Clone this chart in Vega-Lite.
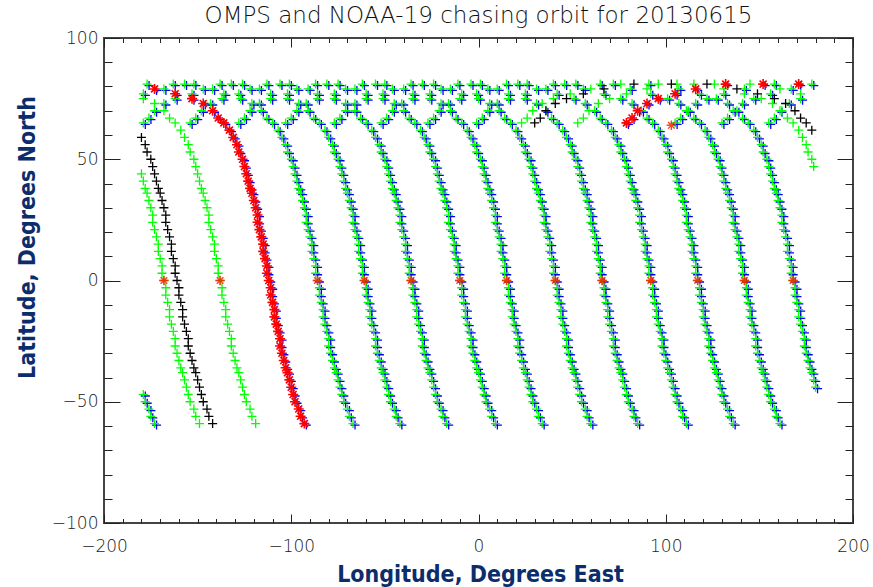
{
"$schema":"https://vega.github.io/schema/vega-lite/v6.json",
"width":749,"height":485,
"autosize":{"type":"none"},
"padding":{"left":104,"top":38,"right":20,"bottom":64},
"background":"white",
"title":{"text":"OMPS and NOAA-19 chasing orbit for 20130615","font":"DejaVu Sans","fontSize":23,"fontWeight":200,"color":"#111","anchor":"middle","frame":"group","offset":4,"dy":21,"baseline":"alphabetic"},
"config":{"view":{"stroke":"#444","strokeWidth":2}},
"datasets":{
"both":[
{"lon":-67,"lat":-59},{"lon":-69,"lat":-56},{"lon":-70,"lat":-53},{"lon":-72,"lat":-50},{"lon":-73,"lat":-47},{"lon":-74,"lat":-44},{"lon":-75,"lat":-41},{"lon":-76,"lat":-38},{"lon":-77,"lat":-36},{"lon":-78,"lat":-33},{"lon":-79,"lat":-30},{"lon":-80,"lat":-27},{"lon":-80,"lat":-24},{"lon":-81,"lat":-21},{"lon":-82,"lat":-18},{"lon":-83,"lat":-15},{"lon":-83,"lat":-12},{"lon":-84,"lat":-9},{"lon":-85,"lat":-6},{"lon":-85,"lat":-3},{"lon":-86,"lat":0},{"lon":-87,"lat":3},{"lon":-87,"lat":6},{"lon":-88,"lat":9},{"lon":-89,"lat":12},{"lon":-89,"lat":15},{"lon":-90,"lat":18},{"lon":-91,"lat":21},{"lon":-92,"lat":24},{"lon":-92,"lat":27},{"lon":-93,"lat":30},{"lon":-94,"lat":33},{"lon":-95,"lat":36},{"lon":-96,"lat":38},{"lon":-97,"lat":41},{"lon":-98,"lat":44},{"lon":-99,"lat":47},{"lon":-100,"lat":50},{"lon":-102,"lat":53},{"lon":-103,"lat":56},{"lon":-105,"lat":59},{"lon":-107,"lat":62},{"lon":-110,"lat":65},{"lon":-113,"lat":67},{"lon":-116,"lat":70},{"lon":-121,"lat":73},{"lon":-127,"lat":75},{"lon":-136,"lat":77},{"lon":-147,"lat":79},{"lon":-163,"lat":81},{"lon":178,"lat":81},{"lon":158,"lat":81},{"lon":142,"lat":79},{"lon":131,"lat":77},{"lon":122,"lat":75},{"lon":116,"lat":73},{"lon":111,"lat":70},{"lon":108,"lat":67},{"lon":105,"lat":65},
{"lon":-42,"lat":-59},{"lon":-44,"lat":-56},{"lon":-45,"lat":-53},{"lon":-47,"lat":-50},{"lon":-48,"lat":-47},{"lon":-49,"lat":-44},{"lon":-50,"lat":-41},{"lon":-51,"lat":-38},{"lon":-52,"lat":-36},{"lon":-53,"lat":-33},{"lon":-54,"lat":-30},{"lon":-55,"lat":-27},{"lon":-55,"lat":-24},{"lon":-56,"lat":-21},{"lon":-57,"lat":-18},{"lon":-58,"lat":-15},{"lon":-58,"lat":-12},{"lon":-59,"lat":-9},{"lon":-60,"lat":-6},{"lon":-60,"lat":-3},{"lon":-61,"lat":0},{"lon":-62,"lat":3},{"lon":-62,"lat":6},{"lon":-63,"lat":9},{"lon":-64,"lat":12},{"lon":-64,"lat":15},{"lon":-65,"lat":18},{"lon":-66,"lat":21},{"lon":-67,"lat":24},{"lon":-67,"lat":27},{"lon":-68,"lat":30},{"lon":-69,"lat":33},{"lon":-70,"lat":36},{"lon":-71,"lat":38},{"lon":-72,"lat":41},{"lon":-73,"lat":44},{"lon":-74,"lat":47},{"lon":-75,"lat":50},{"lon":-77,"lat":53},{"lon":-78,"lat":56},{"lon":-80,"lat":59},{"lon":-82,"lat":62},{"lon":-85,"lat":65},{"lon":-88,"lat":67},{"lon":-91,"lat":70},{"lon":-96,"lat":73},{"lon":-102,"lat":75},{"lon":-111,"lat":77},{"lon":-122,"lat":79},{"lon":-138,"lat":81},{"lon":-157,"lat":81},{"lon":-177,"lat":81},{"lon":167,"lat":79},{"lon":156,"lat":77},{"lon":147,"lat":75},{"lon":141,"lat":73},{"lon":136,"lat":70},{"lon":133,"lat":67},{"lon":130,"lat":65},
{"lon":-17,"lat":-59},{"lon":-19,"lat":-56},{"lon":-20,"lat":-53},{"lon":-22,"lat":-50},{"lon":-23,"lat":-47},{"lon":-24,"lat":-44},{"lon":-25,"lat":-41},{"lon":-26,"lat":-38},{"lon":-27,"lat":-36},{"lon":-28,"lat":-33},{"lon":-29,"lat":-30},{"lon":-30,"lat":-27},{"lon":-30,"lat":-24},{"lon":-31,"lat":-21},{"lon":-32,"lat":-18},{"lon":-33,"lat":-15},{"lon":-33,"lat":-12},{"lon":-34,"lat":-9},{"lon":-35,"lat":-6},{"lon":-35,"lat":-3},{"lon":-36,"lat":0},{"lon":-37,"lat":3},{"lon":-37,"lat":6},{"lon":-38,"lat":9},{"lon":-39,"lat":12},{"lon":-39,"lat":15},{"lon":-40,"lat":18},{"lon":-41,"lat":21},{"lon":-42,"lat":24},{"lon":-42,"lat":27},{"lon":-43,"lat":30},{"lon":-44,"lat":33},{"lon":-45,"lat":36},{"lon":-46,"lat":38},{"lon":-47,"lat":41},{"lon":-48,"lat":44},{"lon":-49,"lat":47},{"lon":-50,"lat":50},{"lon":-52,"lat":53},{"lon":-53,"lat":56},{"lon":-55,"lat":59},{"lon":-57,"lat":62},{"lon":-60,"lat":65},{"lon":-63,"lat":67},{"lon":-66,"lat":70},{"lon":-71,"lat":73},{"lon":-77,"lat":75},{"lon":-86,"lat":77},{"lon":-97,"lat":79},{"lon":-113,"lat":81},{"lon":-132,"lat":81},{"lon":-152,"lat":81},{"lon":-168,"lat":79},{"lon":-179,"lat":77},{"lon":172,"lat":75},{"lon":166,"lat":73},{"lon":161,"lat":70},{"lon":158,"lat":67},{"lon":155,"lat":65},
{"lon":9,"lat":-59},{"lon":7,"lat":-56},{"lon":6,"lat":-53},{"lon":4,"lat":-50},{"lon":3,"lat":-47},{"lon":2,"lat":-44},{"lon":1,"lat":-41},{"lon":0,"lat":-38},{"lon":-1,"lat":-36},{"lon":-2,"lat":-33},{"lon":-3,"lat":-30},{"lon":-4,"lat":-27},{"lon":-4,"lat":-24},{"lon":-5,"lat":-21},{"lon":-6,"lat":-18},{"lon":-7,"lat":-15},{"lon":-7,"lat":-12},{"lon":-8,"lat":-9},{"lon":-9,"lat":-6},{"lon":-9,"lat":-3},{"lon":-10,"lat":0},{"lon":-11,"lat":3},{"lon":-11,"lat":6},{"lon":-12,"lat":9},{"lon":-13,"lat":12},{"lon":-13,"lat":15},{"lon":-14,"lat":18},{"lon":-15,"lat":21},{"lon":-16,"lat":24},{"lon":-16,"lat":27},{"lon":-17,"lat":30},{"lon":-18,"lat":33},{"lon":-19,"lat":36},{"lon":-20,"lat":38},{"lon":-21,"lat":41},{"lon":-22,"lat":44},{"lon":-23,"lat":47},{"lon":-24,"lat":50},{"lon":-26,"lat":53},{"lon":-27,"lat":56},{"lon":-29,"lat":59},{"lon":-31,"lat":62},{"lon":-34,"lat":65},{"lon":-37,"lat":67},{"lon":-40,"lat":70},{"lon":-45,"lat":73},{"lon":-51,"lat":75},{"lon":-60,"lat":77},{"lon":-71,"lat":79},{"lon":-87,"lat":81},{"lon":-106,"lat":81},{"lon":-126,"lat":81},{"lon":-142,"lat":79},{"lon":-153,"lat":77},{"lon":-162,"lat":75},{"lon":-168,"lat":73},{"lon":-173,"lat":70},{"lon":-176,"lat":67},{"lon":-179,"lat":65},
{"lon":34,"lat":-59},{"lon":32,"lat":-56},{"lon":31,"lat":-53},{"lon":29,"lat":-50},{"lon":28,"lat":-47},{"lon":27,"lat":-44},{"lon":26,"lat":-41},{"lon":25,"lat":-38},{"lon":24,"lat":-36},{"lon":23,"lat":-33},{"lon":22,"lat":-30},{"lon":21,"lat":-27},{"lon":21,"lat":-24},{"lon":20,"lat":-21},{"lon":19,"lat":-18},{"lon":18,"lat":-15},{"lon":18,"lat":-12},{"lon":17,"lat":-9},{"lon":16,"lat":-6},{"lon":16,"lat":-3},{"lon":15,"lat":0},{"lon":14,"lat":3},{"lon":14,"lat":6},{"lon":13,"lat":9},{"lon":12,"lat":12},{"lon":12,"lat":15},{"lon":11,"lat":18},{"lon":10,"lat":21},{"lon":9,"lat":24},{"lon":9,"lat":27},{"lon":8,"lat":30},{"lon":7,"lat":33},{"lon":6,"lat":36},{"lon":5,"lat":38},{"lon":4,"lat":41},{"lon":3,"lat":44},{"lon":2,"lat":47},{"lon":1,"lat":50},{"lon":-1,"lat":53},{"lon":-2,"lat":56},{"lon":-4,"lat":59},{"lon":-6,"lat":62},{"lon":-9,"lat":65},{"lon":-12,"lat":67},{"lon":-15,"lat":70},{"lon":-20,"lat":73},{"lon":-26,"lat":75},{"lon":-35,"lat":77},{"lon":-46,"lat":79},{"lon":-62,"lat":81},{"lon":-81,"lat":81},{"lon":-101,"lat":81},{"lon":-117,"lat":79},{"lon":-128,"lat":77},{"lon":-137,"lat":75},{"lon":-143,"lat":73},{"lon":-148,"lat":70},{"lon":-151,"lat":67},{"lon":-154,"lat":65},
{"lon":60,"lat":-59},{"lon":58,"lat":-56},{"lon":57,"lat":-53},{"lon":55,"lat":-50},{"lon":54,"lat":-47},{"lon":53,"lat":-44},{"lon":52,"lat":-41},{"lon":51,"lat":-38},{"lon":50,"lat":-36},{"lon":49,"lat":-33},{"lon":48,"lat":-30},{"lon":47,"lat":-27},{"lon":47,"lat":-24},{"lon":46,"lat":-21},{"lon":45,"lat":-18},{"lon":44,"lat":-15},{"lon":44,"lat":-12},{"lon":43,"lat":-9},{"lon":42,"lat":-6},{"lon":42,"lat":-3},{"lon":41,"lat":0},{"lon":40,"lat":3},{"lon":40,"lat":6},{"lon":39,"lat":9},{"lon":38,"lat":12},{"lon":38,"lat":15},{"lon":37,"lat":18},{"lon":36,"lat":21},{"lon":35,"lat":24},{"lon":35,"lat":27},{"lon":34,"lat":30},{"lon":33,"lat":33},{"lon":32,"lat":36},{"lon":31,"lat":38},{"lon":30,"lat":41},{"lon":29,"lat":44},{"lon":28,"lat":47},{"lon":27,"lat":50},{"lon":25,"lat":53},{"lon":24,"lat":56},{"lon":22,"lat":59},{"lon":20,"lat":62},{"lon":17,"lat":65},{"lon":14,"lat":67},{"lon":11,"lat":70},{"lon":6,"lat":73},{"lon":0,"lat":75},{"lon":-9,"lat":77},{"lon":-20,"lat":79},{"lon":-36,"lat":81},{"lon":-55,"lat":81},{"lon":-75,"lat":81},{"lon":-91,"lat":79},{"lon":-102,"lat":77},{"lon":-111,"lat":75},{"lon":-117,"lat":73},{"lon":-122,"lat":70},{"lon":-125,"lat":67},{"lon":-128,"lat":65},
{"lon":85,"lat":-59},{"lon":83,"lat":-56},{"lon":82,"lat":-53},{"lon":80,"lat":-50},{"lon":79,"lat":-47},{"lon":78,"lat":-44},{"lon":77,"lat":-41},{"lon":76,"lat":-38},{"lon":75,"lat":-36},{"lon":74,"lat":-33},{"lon":73,"lat":-30},{"lon":72,"lat":-27},{"lon":72,"lat":-24},{"lon":71,"lat":-21},{"lon":70,"lat":-18},{"lon":69,"lat":-15},{"lon":69,"lat":-12},{"lon":68,"lat":-9},{"lon":67,"lat":-6},{"lon":67,"lat":-3},{"lon":66,"lat":0},{"lon":65,"lat":3},{"lon":65,"lat":6},{"lon":64,"lat":9},{"lon":63,"lat":12},{"lon":63,"lat":15},{"lon":62,"lat":18},{"lon":61,"lat":21},{"lon":60,"lat":24},{"lon":60,"lat":27},{"lon":59,"lat":30},{"lon":58,"lat":33},{"lon":57,"lat":36},{"lon":56,"lat":38},{"lon":55,"lat":41},{"lon":54,"lat":44},{"lon":53,"lat":47},{"lon":52,"lat":50},{"lon":50,"lat":53},{"lon":49,"lat":56},{"lon":47,"lat":59},{"lon":45,"lat":62},{"lon":42,"lat":65},{"lon":39,"lat":67},{"lon":36,"lat":70},{"lon":31,"lat":73},{"lon":25,"lat":75},{"lon":16,"lat":77},{"lon":5,"lat":79},{"lon":-11,"lat":81},{"lon":-30,"lat":81},{"lon":-50,"lat":81},{"lon":-66,"lat":79},{"lon":-77,"lat":77},{"lon":-86,"lat":75},{"lon":-92,"lat":73},{"lon":-97,"lat":70},{"lon":-100,"lat":67},{"lon":-103,"lat":65},
{"lon":111,"lat":-59},{"lon":109,"lat":-56},{"lon":108,"lat":-53},{"lon":106,"lat":-50},{"lon":105,"lat":-47},{"lon":104,"lat":-44},{"lon":103,"lat":-41},{"lon":102,"lat":-38},{"lon":101,"lat":-36},{"lon":100,"lat":-33},{"lon":99,"lat":-30},{"lon":98,"lat":-27},{"lon":98,"lat":-24},{"lon":97,"lat":-21},{"lon":96,"lat":-18},{"lon":95,"lat":-15},{"lon":95,"lat":-12},{"lon":94,"lat":-9},{"lon":93,"lat":-6},{"lon":93,"lat":-3},{"lon":92,"lat":0},{"lon":91,"lat":3},{"lon":91,"lat":6},{"lon":90,"lat":9},{"lon":89,"lat":12},{"lon":89,"lat":15},{"lon":88,"lat":18},{"lon":87,"lat":21},{"lon":86,"lat":24},{"lon":86,"lat":27},{"lon":85,"lat":30},{"lon":84,"lat":33},{"lon":83,"lat":36},{"lon":82,"lat":38},{"lon":81,"lat":41},{"lon":80,"lat":44},{"lon":79,"lat":47},{"lon":78,"lat":50},{"lon":76,"lat":53},{"lon":75,"lat":56},{"lon":73,"lat":59},{"lon":71,"lat":62},{"lon":68,"lat":65},{"lon":65,"lat":67},{"lon":62,"lat":70},{"lon":57,"lat":73},{"lon":51,"lat":75},{"lon":42,"lat":77},{"lon":31,"lat":79},{"lon":15,"lat":81},{"lon":-4,"lat":81},{"lon":-24,"lat":81},{"lon":-40,"lat":79},{"lon":-51,"lat":77},{"lon":-60,"lat":75},{"lon":-66,"lat":73},{"lon":-71,"lat":70},{"lon":-74,"lat":67},{"lon":-77,"lat":65},
{"lon":136,"lat":-59},{"lon":134,"lat":-56},{"lon":133,"lat":-53},{"lon":131,"lat":-50},{"lon":130,"lat":-47},{"lon":129,"lat":-44},{"lon":128,"lat":-41},{"lon":127,"lat":-38},{"lon":126,"lat":-36},{"lon":125,"lat":-33},{"lon":124,"lat":-30},{"lon":123,"lat":-27},{"lon":123,"lat":-24},{"lon":122,"lat":-21},{"lon":121,"lat":-18},{"lon":120,"lat":-15},{"lon":120,"lat":-12},{"lon":119,"lat":-9},{"lon":118,"lat":-6},{"lon":118,"lat":-3},{"lon":117,"lat":0},{"lon":116,"lat":3},{"lon":116,"lat":6},{"lon":115,"lat":9},{"lon":114,"lat":12},{"lon":114,"lat":15},{"lon":113,"lat":18},{"lon":112,"lat":21},{"lon":111,"lat":24},{"lon":111,"lat":27},{"lon":110,"lat":30},{"lon":109,"lat":33},{"lon":108,"lat":36},{"lon":107,"lat":38},{"lon":106,"lat":41},{"lon":105,"lat":44},{"lon":104,"lat":47},{"lon":103,"lat":50},{"lon":101,"lat":53},{"lon":100,"lat":56},{"lon":98,"lat":59},{"lon":96,"lat":62},{"lon":93,"lat":65},{"lon":90,"lat":67},{"lon":87,"lat":70},{"lon":82,"lat":73},{"lon":76,"lat":75},{"lon":67,"lat":77},{"lon":56,"lat":79},{"lon":40,"lat":81},{"lon":21,"lat":81},{"lon":1,"lat":81},{"lon":-15,"lat":79},{"lon":-26,"lat":77},{"lon":-35,"lat":75},{"lon":-41,"lat":73},{"lon":-46,"lat":70},{"lon":-49,"lat":67},{"lon":-52,"lat":65},
{"lon":161,"lat":-59},{"lon":159,"lat":-56},{"lon":158,"lat":-53},{"lon":156,"lat":-50},{"lon":155,"lat":-47},{"lon":154,"lat":-44},{"lon":153,"lat":-41},{"lon":152,"lat":-38},{"lon":151,"lat":-36},{"lon":150,"lat":-33},{"lon":149,"lat":-30},{"lon":148,"lat":-27},{"lon":148,"lat":-24},{"lon":147,"lat":-21},{"lon":146,"lat":-18},{"lon":145,"lat":-15},{"lon":145,"lat":-12},{"lon":144,"lat":-9},{"lon":143,"lat":-6},{"lon":143,"lat":-3},{"lon":142,"lat":0},{"lon":141,"lat":3},{"lon":141,"lat":6},{"lon":140,"lat":9},{"lon":139,"lat":12},{"lon":139,"lat":15},{"lon":138,"lat":18},{"lon":137,"lat":21},{"lon":136,"lat":24},{"lon":136,"lat":27},{"lon":135,"lat":30},{"lon":134,"lat":33},{"lon":133,"lat":36},{"lon":132,"lat":38},{"lon":131,"lat":41},{"lon":130,"lat":44},{"lon":129,"lat":47},{"lon":128,"lat":50},{"lon":126,"lat":53},{"lon":125,"lat":56},{"lon":123,"lat":59},{"lon":121,"lat":62},{"lon":118,"lat":65},{"lon":115,"lat":67},{"lon":112,"lat":70},{"lon":107,"lat":73},{"lon":101,"lat":75},{"lon":92,"lat":77},{"lon":81,"lat":79},{"lon":65,"lat":81},{"lon":46,"lat":81},{"lon":26,"lat":81},{"lon":10,"lat":79},{"lon":-1,"lat":77},{"lon":-10,"lat":75},{"lon":-16,"lat":73},{"lon":-21,"lat":70},{"lon":-24,"lat":67},{"lon":-27,"lat":65},
{"lon":-173,"lat":-59},{"lon":-175,"lat":-56},{"lon":-176,"lat":-53},{"lon":-178,"lat":-50},{"lon":-179,"lat":-47},{"lon":180,"lat":-44},{"lon":179,"lat":-41},{"lon":178,"lat":-38},{"lon":177,"lat":-36},{"lon":176,"lat":-33},{"lon":175,"lat":-30},{"lon":174,"lat":-27},{"lon":174,"lat":-24},{"lon":173,"lat":-21},{"lon":172,"lat":-18},{"lon":171,"lat":-15},{"lon":171,"lat":-12},{"lon":170,"lat":-9},{"lon":169,"lat":-6},{"lon":169,"lat":-3},{"lon":168,"lat":0},{"lon":167,"lat":3},{"lon":167,"lat":6},{"lon":166,"lat":9},{"lon":165,"lat":12},{"lon":165,"lat":15},{"lon":164,"lat":18},{"lon":163,"lat":21},{"lon":162,"lat":24},{"lon":162,"lat":27},{"lon":161,"lat":30},{"lon":160,"lat":33},{"lon":159,"lat":36},{"lon":158,"lat":38},{"lon":157,"lat":41},{"lon":156,"lat":44},{"lon":155,"lat":47},{"lon":154,"lat":50},{"lon":152,"lat":53},{"lon":151,"lat":56},{"lon":149,"lat":59},{"lon":147,"lat":62},{"lon":144,"lat":65},{"lon":141,"lat":67},{"lon":138,"lat":70},{"lon":133,"lat":73},{"lon":127,"lat":75},{"lon":118,"lat":77},{"lon":107,"lat":79},{"lon":91,"lat":81},{"lon":72,"lat":81},{"lon":52,"lat":81},{"lon":36,"lat":79},{"lon":25,"lat":77},{"lon":16,"lat":75},{"lon":10,"lat":73},{"lon":5,"lat":70},{"lon":2,"lat":67},{"lon":-1,"lat":65}
],
"omps":[
{"lon":-149,"lat":-59},{"lon":-151,"lat":-56},{"lon":-152,"lat":-53},{"lon":-154,"lat":-50},{"lon":-155,"lat":-47},{"lon":-156,"lat":-44},{"lon":-157,"lat":-41},{"lon":-158,"lat":-38},{"lon":-159,"lat":-36},{"lon":-160,"lat":-33},{"lon":-161,"lat":-30},{"lon":-162,"lat":-27},{"lon":-162,"lat":-24},{"lon":-163,"lat":-21},{"lon":-164,"lat":-18},{"lon":-165,"lat":-15},{"lon":-165,"lat":-12},{"lon":-166,"lat":-9},{"lon":-167,"lat":-6},{"lon":-167,"lat":-3},{"lon":-168,"lat":0},{"lon":-169,"lat":3},{"lon":-169,"lat":6},{"lon":-170,"lat":9},{"lon":-171,"lat":12},{"lon":-171,"lat":15},{"lon":-172,"lat":18},{"lon":-173,"lat":21},{"lon":-174,"lat":24},{"lon":-174,"lat":27},{"lon":-175,"lat":30},{"lon":-176,"lat":33},{"lon":-177,"lat":36},{"lon":-178,"lat":38},{"lon":-179,"lat":41},{"lon":-180,"lat":44},{"lon":179,"lat":47},{"lon":178,"lat":50},{"lon":176,"lat":53},{"lon":175,"lat":56},{"lon":173,"lat":59},{"lon":171,"lat":62},{"lon":168,"lat":65},{"lon":165,"lat":67},{"lon":162,"lat":70},{"lon":157,"lat":73},{"lon":151,"lat":75},{"lon":142,"lat":77},{"lon":131,"lat":79},{"lon":115,"lat":81},{"lon":96,"lat":81},{"lon":76,"lat":81},{"lon":60,"lat":79},{"lon":49,"lat":77},{"lon":40,"lat":75},{"lon":34,"lat":73},{"lon":29,"lat":70},{"lon":26,"lat":67},{"lon":23,"lat":65},
{"lon":-119,"lat":-59},{"lon":-121,"lat":-56},{"lon":-122,"lat":-53},{"lon":-124,"lat":-50},{"lon":-125,"lat":-47},{"lon":-126,"lat":-44},{"lon":-127,"lat":-41},{"lon":-128,"lat":-38},{"lon":-129,"lat":-36},{"lon":-130,"lat":-33},{"lon":-131,"lat":-30},{"lon":-132,"lat":-27},{"lon":-132,"lat":-24},{"lon":-133,"lat":-21},{"lon":-134,"lat":-18},{"lon":-135,"lat":-15},{"lon":-135,"lat":-12},{"lon":-136,"lat":-9},{"lon":-137,"lat":-6},{"lon":-137,"lat":-3},{"lon":-138,"lat":0},{"lon":-139,"lat":3},{"lon":-139,"lat":6},{"lon":-140,"lat":9},{"lon":-141,"lat":12},{"lon":-141,"lat":15},{"lon":-142,"lat":18},{"lon":-143,"lat":21},{"lon":-144,"lat":24},{"lon":-144,"lat":27},{"lon":-145,"lat":30},{"lon":-146,"lat":33},{"lon":-147,"lat":36},{"lon":-148,"lat":38},{"lon":-149,"lat":41},{"lon":-150,"lat":44},{"lon":-151,"lat":47},{"lon":-152,"lat":50},{"lon":-154,"lat":53},{"lon":-155,"lat":56},{"lon":-157,"lat":59},{"lon":-159,"lat":62},{"lon":-162,"lat":65},{"lon":-165,"lat":67},{"lon":-168,"lat":70},{"lon":-173,"lat":73},{"lon":-179,"lat":75},{"lon":172,"lat":77},{"lon":161,"lat":79},{"lon":145,"lat":81},{"lon":126,"lat":81},{"lon":106,"lat":81},{"lon":90,"lat":79},{"lon":79,"lat":77},{"lon":70,"lat":75},{"lon":64,"lat":73},{"lon":59,"lat":70},{"lon":56,"lat":67},{"lon":53,"lat":65}
],
"other":[
{"lon":-142,"lat":-59},{"lon":-144,"lat":-56},{"lon":-145,"lat":-53},{"lon":-147,"lat":-50},{"lon":-148,"lat":-47},{"lon":-149,"lat":-44},{"lon":-150,"lat":-41},{"lon":-151,"lat":-38},{"lon":-152,"lat":-36},{"lon":-153,"lat":-33},{"lon":-154,"lat":-30},{"lon":-155,"lat":-27},{"lon":-155,"lat":-24},{"lon":-156,"lat":-21},{"lon":-157,"lat":-18},{"lon":-158,"lat":-15},{"lon":-158,"lat":-12},{"lon":-159,"lat":-9},{"lon":-160,"lat":-6},{"lon":-160,"lat":-3},{"lon":-161,"lat":0},{"lon":-162,"lat":3},{"lon":-162,"lat":6},{"lon":-163,"lat":9},{"lon":-164,"lat":12},{"lon":-164,"lat":15},{"lon":-165,"lat":18},{"lon":-166,"lat":21},{"lon":-167,"lat":24},{"lon":-167,"lat":27},{"lon":-168,"lat":30},{"lon":-169,"lat":33},{"lon":-170,"lat":36},{"lon":-171,"lat":38},{"lon":-172,"lat":41},{"lon":-173,"lat":44},{"lon":-174,"lat":47},{"lon":-175,"lat":50},{"lon":-177,"lat":53},{"lon":-178,"lat":56},{"lon":-180,"lat":59},{"lon":178,"lat":62},{"lon":175,"lat":65},{"lon":172,"lat":67},{"lon":169,"lat":70},{"lon":164,"lat":73},{"lon":158,"lat":75},{"lon":149,"lat":77},{"lon":138,"lat":79},{"lon":122,"lat":81},{"lon":103,"lat":81},{"lon":83,"lat":81},{"lon":67,"lat":79},{"lon":56,"lat":77},{"lon":47,"lat":75},{"lon":41,"lat":73},{"lon":36,"lat":70},{"lon":33,"lat":67},{"lon":30,"lat":65}
],
"collocated":[
{"lon":-93,"lat":-59},{"lon":-95,"lat":-56},{"lon":-96,"lat":-53},{"lon":-98,"lat":-50},{"lon":-99,"lat":-47},{"lon":-100,"lat":-44},{"lon":-101,"lat":-41},{"lon":-102,"lat":-38},{"lon":-103,"lat":-36},{"lon":-104,"lat":-33},{"lon":-105,"lat":-30},{"lon":-106,"lat":-27},{"lon":-106,"lat":-24},{"lon":-107,"lat":-21},{"lon":-108,"lat":-18},{"lon":-109,"lat":-15},{"lon":-109,"lat":-12},{"lon":-110,"lat":-9},{"lon":-111,"lat":-6},{"lon":-111,"lat":-3},{"lon":-112,"lat":0},{"lon":-113,"lat":3},{"lon":-113,"lat":6},{"lon":-114,"lat":9},{"lon":-115,"lat":12},{"lon":-115,"lat":15},{"lon":-116,"lat":18},{"lon":-117,"lat":21},{"lon":-118,"lat":24},{"lon":-118,"lat":27},{"lon":-119,"lat":30},{"lon":-120,"lat":33},{"lon":-121,"lat":36},{"lon":-122,"lat":38},{"lon":-123,"lat":41},{"lon":-124,"lat":44},{"lon":-125,"lat":47},{"lon":-126,"lat":50},{"lon":-128,"lat":53},{"lon":-129,"lat":56},{"lon":-131,"lat":59},{"lon":-133,"lat":62},{"lon":-136,"lat":65},{"lon":-139,"lat":67},{"lon":-142,"lat":70},{"lon":-147,"lat":73},{"lon":-153,"lat":75},{"lon":-162,"lat":77},{"lon":-173,"lat":79},{"lon":171,"lat":81},{"lon":152,"lat":81},{"lon":132,"lat":81},{"lon":116,"lat":79},{"lon":105,"lat":77},{"lon":96,"lat":75},{"lon":90,"lat":73},{"lon":85,"lat":70},{"lon":82,"lat":67},{"lon":79,"lat":65}
],
"equator":[
{"lon":-168,"lat":0},{"lon":-138,"lat":0},{"lon":-86,"lat":0},{"lon":-61,"lat":0},{"lon":-36,"lat":0},{"lon":-10,"lat":0},{"lon":15,"lat":0},{"lon":41,"lat":0},{"lon":66,"lat":0},{"lon":92,"lat":0},{"lon":117,"lat":0},{"lon":142,"lat":0},{"lon":168,"lat":0},{"lon":103,"lat":64}
]
},
"layer":[
{"data":{"name":"both"},
 "mark":{"type":"point","shape":"M-1,0H1M0,-1V1","size":81,"strokeWidth":1.3,"color":"#0000FF","filled":false,"opacity":1,"xOffset":2,"yOffset":1.5},
 "encoding":{
  "x":{"field":"lon","type":"quantitative","scale":{"domain":[-200,200],"nice":false,"zero":false},
   "axis":{"orient":"bottom","values":[-200,-190,-180,-170,-160,-150,-140,-130,-120,-110,-100,-90,-80,-70,-60,-50,-40,-30,-20,-10,0,10,20,30,40,50,60,70,80,90,100,110,120,130,140,150,160,170,180,190,200],
    "domain":false,"grid":false,"tickColor":"#222","tickWidth":1,
    "tickSize":{"condition":{"test":"datum.value % 100 === 0","value":-9},"value":-4.5},
    "labelExpr":"datum.value % 100 === 0 ? datum.label : ''","labelFlush":false,"labelOverlap":false,"labelBound":false,
    "labelPadding":24,"labelFont":"DejaVu Sans","labelFontSize":17,"labelFontWeight":200,"labelColor":"#222",
    "title":"Longitude, Degrees East","titleFont":"DejaVu Sans Condensed","titleFontSize":23,"titleFontWeight":"bold","titleColor":"#0C2D6B",
    "titleX":376,"titleY":58,"titleBaseline":"alphabetic","titleAlign":"center"}},
  "y":{"field":"lat","type":"quantitative","scale":{"domain":[-100,100],"nice":false,"zero":false},
   "axis":{"orient":"left","values":[-100,-90,-80,-70,-60,-50,-40,-30,-20,-10,0,10,20,30,40,50,60,70,80,90,100],
    "domain":false,"grid":false,"tickColor":"#222","tickWidth":1,
    "tickSize":{"condition":{"test":"datum.value % 50 === 0","value":-16},"value":-8},
    "labelExpr":"datum.value % 50 === 0 ? datum.label : ''","labelFlush":false,"labelOverlap":false,"labelBound":false,
    "labelPadding":22,"labelFont":"DejaVu Sans","labelFontSize":17,"labelFontWeight":200,"labelColor":"#222",
    "title":"Latitude, Degrees North","titleFont":"DejaVu Sans Condensed","titleFontSize":23,"titleFontWeight":"bold","titleColor":"#0C2D6B",
    "titleX":-70,"titleY":199,"titleBaseline":"alphabetic","titleAlign":"center","titleAngle":270}}
 }},
{"data":{"name":"collocated"},
 "mark":{"type":"point","shape":"M-1,0H1M0,-1V1","size":81,"strokeWidth":1.3,"color":"#0000FF","filled":false,"opacity":1,"xOffset":2,"yOffset":1.5},
 "encoding":{"x":{"field":"lon","type":"quantitative","scale":{"domain":[-200,200],"nice":false,"zero":false},"axis":null},
  "y":{"field":"lat","type":"quantitative","scale":{"domain":[-100,100],"nice":false,"zero":false},"axis":null}}},
{"data":{"name":"both"},
 "mark":{"type":"point","shape":"M-1,0H1M0,-1V1","size":81,"strokeWidth":1.3,"color":"#00FF00","filled":false,"opacity":1},
 "encoding":{
  "x":{"field":"lon","type":"quantitative","scale":{"domain":[-200,200],"nice":false,"zero":false},
   "axis":{"orient":"top","values":[-200,-190,-180,-170,-160,-150,-140,-130,-120,-110,-100,-90,-80,-70,-60,-50,-40,-30,-20,-10,0,10,20,30,40,50,60,70,80,90,100,110,120,130,140,150,160,170,180,190,200],
    "domain":false,"grid":false,"labels":false,"title":null,"tickColor":"#222","tickWidth":1,
    "tickSize":{"condition":{"test":"datum.value % 100 === 0","value":-9},"value":-4.5}}},
  "y":{"field":"lat","type":"quantitative","scale":{"domain":[-100,100],"nice":false,"zero":false},
   "axis":{"orient":"right","values":[-100,-90,-80,-70,-60,-50,-40,-30,-20,-10,0,10,20,30,40,50,60,70,80,90,100],
    "domain":false,"grid":false,"labels":false,"title":null,"tickColor":"#222","tickWidth":1,
    "tickSize":{"condition":{"test":"datum.value % 50 === 0","value":-16},"value":-8}}}
 }},
{"data":{"name":"omps"},
 "mark":{"type":"point","shape":"M-1,0H1M0,-1V1","size":81,"strokeWidth":1.3,"color":"#00FF00","filled":false,"opacity":1},
 "encoding":{"x":{"field":"lon","type":"quantitative","scale":{"domain":[-200,200],"nice":false,"zero":false},"axis":null},
  "y":{"field":"lat","type":"quantitative","scale":{"domain":[-100,100],"nice":false,"zero":false},"axis":null}}},
{"data":{"name":"other"},
 "mark":{"type":"point","shape":"M-1,0H1M0,-1V1","size":81,"strokeWidth":1.3,"color":"#000000","filled":false,"opacity":1},
 "encoding":{"x":{"field":"lon","type":"quantitative","scale":{"domain":[-200,200],"nice":false,"zero":false},"axis":null},
  "y":{"field":"lat","type":"quantitative","scale":{"domain":[-100,100],"nice":false,"zero":false},"axis":null}}},
{"data":{"name":"collocated"},
 "mark":{"type":"point","shape":"M-1,0H1M0,-1V1M-0.7,-0.7L0.7,0.7M-0.7,0.7L0.7,-0.7","size":100,"strokeWidth":1.6,"color":"#FF0000","filled":false,"opacity":1},
 "encoding":{"x":{"field":"lon","type":"quantitative","scale":{"domain":[-200,200],"nice":false,"zero":false},"axis":null},
  "y":{"field":"lat","type":"quantitative","scale":{"domain":[-100,100],"nice":false,"zero":false},"axis":null}}},
{"data":{"name":"equator"},
 "mark":{"type":"point","shape":"M-1,0H1M0,-1V1M-0.7,-0.7L0.7,0.7M-0.7,0.7L0.7,-0.7","size":90,"strokeWidth":1.4,"color":"#FF2000","filled":false,"opacity":0.85},
 "encoding":{"x":{"field":"lon","type":"quantitative","scale":{"domain":[-200,200],"nice":false,"zero":false},"axis":null},
  "y":{"field":"lat","type":"quantitative","scale":{"domain":[-100,100],"nice":false,"zero":false},"axis":null}}}
],
"resolve":{"axis":{"x":"independent","y":"independent"}}
}
